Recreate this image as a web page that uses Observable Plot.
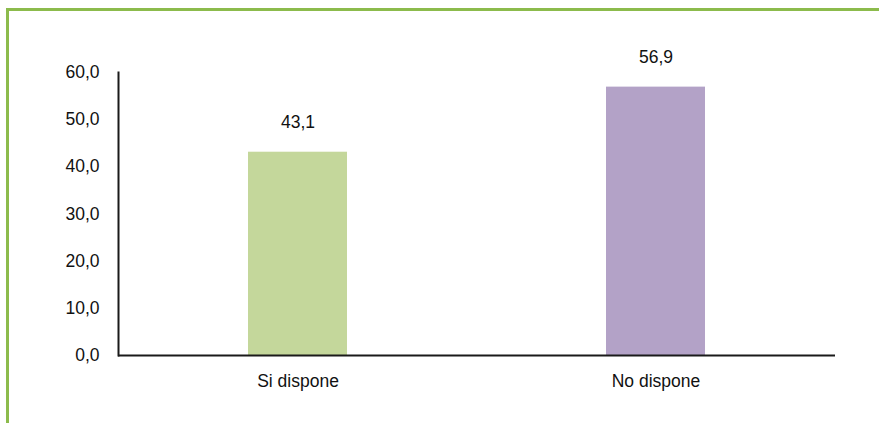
<!DOCTYPE html>
<html>
<head>
<meta charset="utf-8">
<script src="https://cdn.jsdelivr.net/npm/d3@7"></script>
<script src="https://cdn.jsdelivr.net/npm/@observablehq/plot@0.6"></script>
<style>
  html, body { margin: 0; padding: 0; background: #fff; }
  #wrap { position: relative; width: 879px; height: 423px; overflow: hidden; }
  #border { position: absolute; left: 6px; top: 8px; right: -10px; bottom: -10px;
            border-top: 3px solid #8cbb4c; border-left: 3px solid #8cbb4c; pointer-events: none; }
  #wrap svg { position: absolute; left: 0; top: 0; }
</style>
</head>
<body>
<div id="wrap"><div id="border"></div></div>
<script>
const categories = ["Si dispone", "No dispone"];
const values = [43.1, 56.9];
const colors = ["#c4d79b", "#b3a2c7"];
const yTicks = [0, 10, 20, 30, 40, 50, 60];

const data = categories.map((c, i) => ({cat: c, value: values[i], color: colors[i]}));
const fmt = v => v.toFixed(1).replace(".", ",");
const font = "'Liberation Sans', Arial, sans-serif";
const fs = 17.5;

const chart = Plot.plot({
  width: 879,
  height: 423,
  marginLeft: 118,
  marginRight: 44,
  marginTop: 72,
  marginBottom: 68,
  style: {fontFamily: font, fontSize: fs + "px", color: "#111", background: "transparent"},
  x: {domain: categories, paddingInner: 0.724, paddingOuter: 0.362, label: null},
  y: {domain: [0, 60], ticks: yTicks, label: null},
  marks: [
    Plot.barY(data, {x: "cat", y: "value", fill: "color"}),
    Plot.text(data, {x: "cat", y: "value", text: d => fmt(d.value), dy: -30, fontSize: fs, fill: "#111"}),
    Plot.axisY({ticks: yTicks, tickFormat: fmt, tickSize: 0, tickPadding: 19, fontSize: fs, label: null}),
    Plot.axisX({tickSize: 0, tickPadding: 19, fontSize: fs, label: null}),
    Plot.ruleY([0], {stroke: "#1a1a1a", strokeWidth: 2}),
    Plot.frame({anchor: "left", stroke: "#1a1a1a", strokeWidth: 2})
  ]
});
document.getElementById("wrap").appendChild(chart);
</script>
</body>
</html>
